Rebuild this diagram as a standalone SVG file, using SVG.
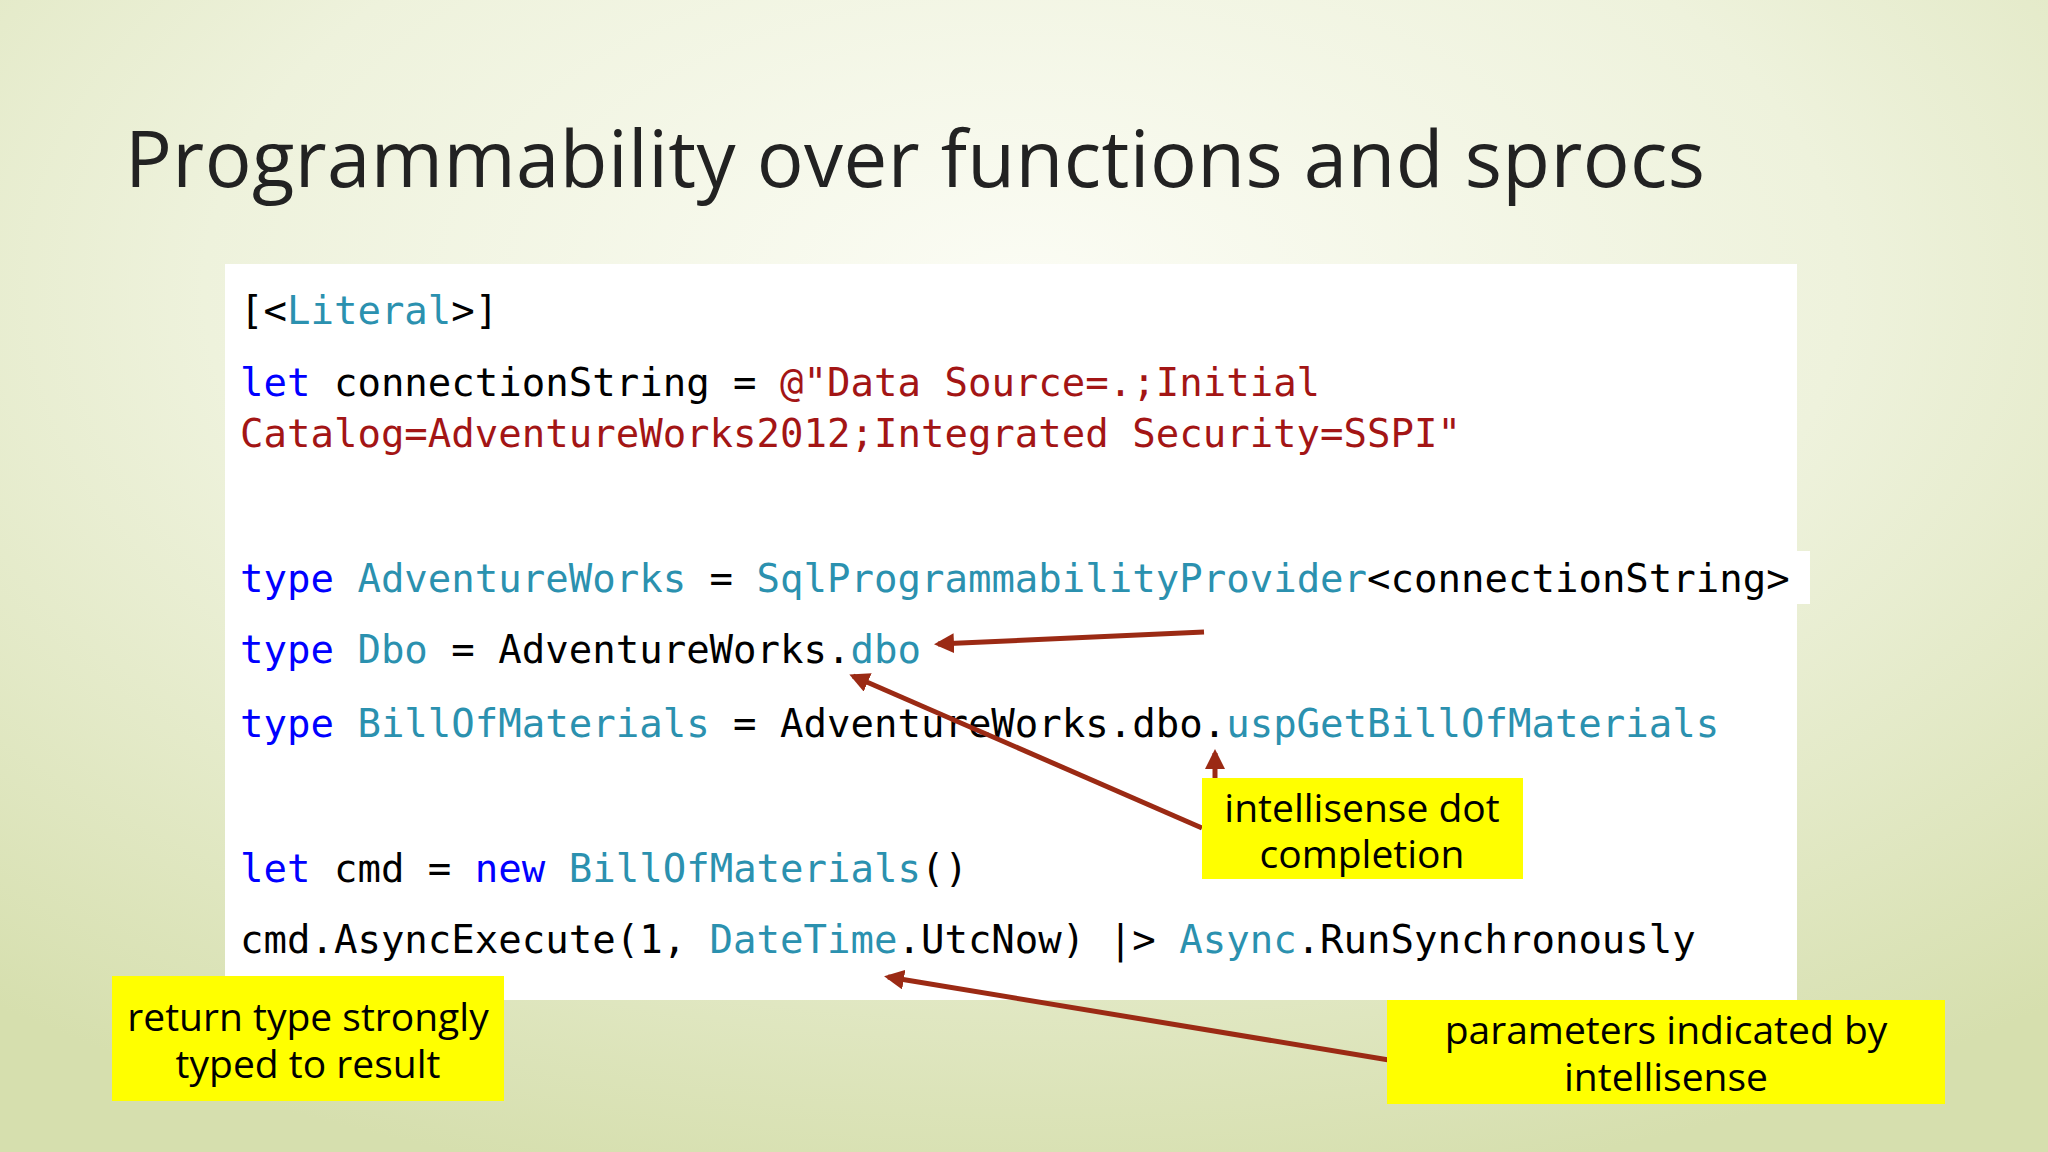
<svg xmlns="http://www.w3.org/2000/svg" width="2048" height="1152" viewBox="0 0 2048 1152">
<defs>
<radialGradient id="bg" cx="0.5" cy="0.25" r="0.8">
<stop offset="0" stop-color="#fbfcf4"/>
<stop offset="0.5" stop-color="#eef2dc"/>
<stop offset="1" stop-color="#d6dfae"/>
</radialGradient>
<marker id="ah" viewBox="0 0 10 10" refX="8" refY="5" markerWidth="4" markerHeight="4" orient="auto"><path d="M0,0L10,5L0,10z" fill="#9b2a14"/></marker>
<style>
.c{font-family:"DejaVu Sans Mono","Liberation Mono",monospace;font-size:39px;fill:#000}
.k{fill:#0000ff}.t{fill:#2b91af}.s{fill:#a31515}
.n{font-family:"Open Sans","Noto Sans",sans-serif;font-size:39px;fill:#000;text-anchor:middle}
.a{stroke:#9b2a14;stroke-width:5;fill:none;marker-end:url(#ah)}
.y{fill:#ffff00}
</style>
</defs>
<rect width="2048" height="1152" fill="url(#bg)"/>
<text x="125" y="187" font-family="Open Sans, Noto Sans, sans-serif" font-size="78" fill="#222" textLength="1580">Programmability over functions and sprocs</text>
<g id="code">
<rect x="225" y="264" width="1572" height="736" fill="#fff"/>
<rect x="1790" y="551" width="20" height="53" fill="#fff"/>
<text class="c" x="240" y="324">[&lt;<tspan class="t">Literal</tspan>&gt;]</text>
<text class="c" x="240" y="396"><tspan class="k">let</tspan> connectionString = <tspan class="s">@"Data Source=.;Initial</tspan></text>
<text class="c s" x="240" y="447">Catalog=AdventureWorks2012;Integrated Security=SSPI"</text>
<text class="c" x="240" y="592"><tspan class="k">type</tspan> <tspan class="t">AdventureWorks</tspan> = <tspan class="t">SqlProgrammabilityProvider</tspan>&lt;connectionString&gt;</text>
<text class="c" x="240" y="663"><tspan class="k">type</tspan> <tspan class="t">Dbo</tspan> = AdventureWorks.<tspan class="t">dbo</tspan></text>
<text class="c" x="240" y="737"><tspan class="k">type</tspan> <tspan class="t">BillOfMaterials</tspan> = AdventureWorks.dbo.<tspan class="t">uspGetBillOfMaterials</tspan></text>
<text class="c" x="240" y="882"><tspan class="k">let</tspan> cmd = <tspan class="k">new</tspan> <tspan class="t">BillOfMaterials</tspan>()</text>
<text class="c" x="240" y="953">cmd.AsyncExecute(1, <tspan class="t">DateTime</tspan>.UtcNow) |&gt; <tspan class="t">Async</tspan>.RunSynchronously</text>
</g>
<g id="connectors">
<line class="a" x1="1204" y1="632" x2="938" y2="644"/>
<line class="a" x1="1202" y1="828" x2="853" y2="676"/>
<line class="a" x1="1215" y1="810" x2="1215" y2="753"/>
<line class="a" x1="1407" y1="1063" x2="888" y2="977"/>
</g>
<g id="note1"><rect class="y" x="1202" y="778" width="321" height="101"/>
<text class="n" x="1362" y="822">intellisense dot</text><text class="n" x="1362" y="868">completion</text></g>
<g id="note2"><rect class="y" x="112" y="976" width="392" height="125"/>
<text class="n" x="308" y="1031">return type strongly</text><text class="n" x="308" y="1078">typed to result</text></g>
<g id="note3"><rect class="y" x="1387" y="1000" width="558" height="104"/>
<text class="n" x="1666" y="1044">parameters indicated by</text><text class="n" x="1666" y="1091">intellisense</text></g>
</svg>
